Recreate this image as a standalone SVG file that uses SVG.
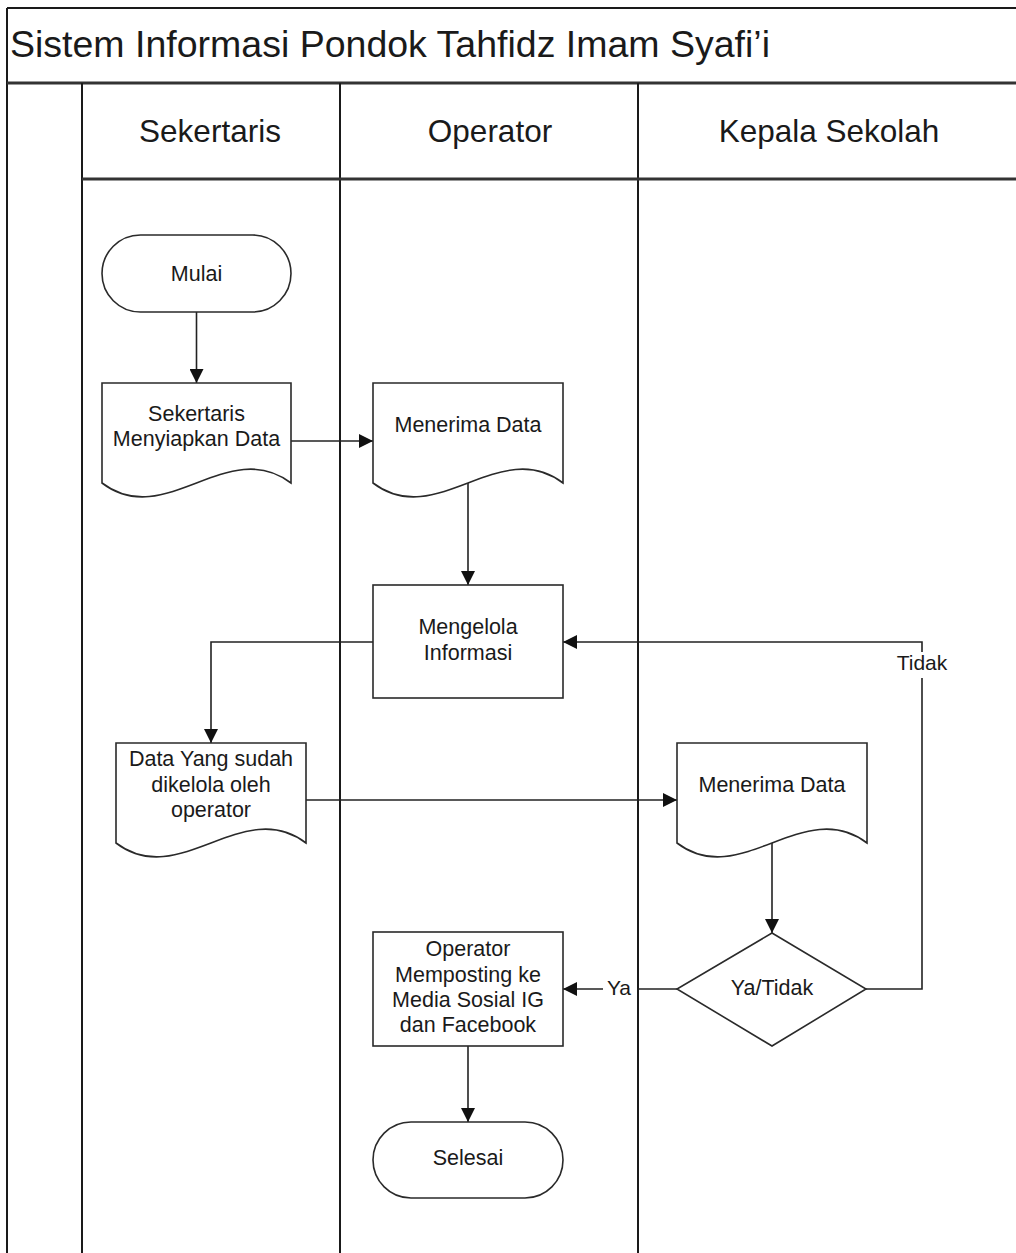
<svg xmlns="http://www.w3.org/2000/svg" width="1016" height="1253" viewBox="0 0 1016 1253">
<style>
.frame{fill:none;stroke:#1a1a1a;stroke-width:2}
.sep{fill:none;stroke:#333;stroke-width:3}
.shape{fill:#fff;stroke:#2a2a2a;stroke-width:1.6}
.conn{fill:none;stroke:#222;stroke-width:1.6}
text{font-family:"Liberation Sans",Arial,sans-serif;fill:#1a1a1a}
.t{font-size:21.5px;text-anchor:middle}
.lbl{font-size:21px;text-anchor:middle}
.hd{font-size:31.5px;text-anchor:middle}
.title{font-size:37.5px}
</style>
<defs>
<marker id="arr" viewBox="0 0 14 14" refX="14" refY="7" markerWidth="14" markerHeight="14" markerUnits="userSpaceOnUse" orient="auto">
<path d="M0,0 L14,7 L0,14 Z" fill="#111"/>
</marker>
</defs>
<rect width="1016" height="1253" fill="#fff"/>
<g id="pool">
<line class="frame" x1="7" y1="8" x2="1016" y2="8"/>
<line class="frame" x1="7" y1="8" x2="7" y2="1253"/>
<line class="sep" x1="7" y1="83" x2="1016" y2="83"/>
<line class="frame" x1="82" y1="83" x2="82" y2="1253"/>
<line class="frame" x1="340" y1="83" x2="340" y2="1253"/>
<line class="frame" x1="638" y1="83" x2="638" y2="1253"/>
<line class="sep" x1="82" y1="179" x2="1016" y2="179"/>
<text class="title" x="10" y="57">Sistem Informasi Pondok Tahfidz Imam Syafi’i</text>
<text class="hd" x="210" y="142">Sekertaris</text>
<text class="hd" x="490" y="142">Operator</text>
<text class="hd" x="829" y="142">Kepala Sekolah</text>
</g>
<g id="connectors">
<line class="conn" x1="196.5" y1="312" x2="196.5" y2="383" marker-end="url(#arr)"/>
<line class="conn" x1="291" y1="441" x2="373" y2="441" marker-end="url(#arr)"/>
<line class="conn" x1="468" y1="483" x2="468" y2="585" marker-end="url(#arr)"/>
<polyline class="conn" points="373,642 211,642 211,743" marker-end="url(#arr)"/>
<line class="conn" x1="306" y1="800" x2="677" y2="800" marker-end="url(#arr)"/>
<line class="conn" x1="772" y1="843" x2="772" y2="933" marker-end="url(#arr)"/>
<polyline class="conn" points="922,652 922,642 563,642" marker-end="url(#arr)"/>
<polyline class="conn" points="866,989 922,989 922,678"/>
<text class="lbl" x="922" y="670">Tidak</text>
<line class="conn" x1="677" y1="989" x2="637" y2="989"/>
<line class="conn" x1="603" y1="989" x2="563" y2="989" marker-end="url(#arr)"/>
<text class="lbl" x="619" y="995">Ya</text>
<line class="conn" x1="468" y1="1046" x2="468" y2="1122" marker-end="url(#arr)"/>
</g>
<g id="mulai">
<rect class="shape" x="102" y="235" width="189" height="77" rx="38.5" ry="38.5"/>
<text class="t" x="196.5" y="281">Mulai</text>
</g>
<g id="sekertaris-menyiapkan-data">
<path class="shape" d="M102,383 H291 V483 C228,435 165,531 102,483 Z"/>
<text class="t" x="196.5" y="421">Sekertaris</text>
<text class="t" x="196.5" y="446">Menyiapkan Data</text>
</g>
<g id="menerima-data-operator">
<path class="shape" d="M373,383 H563 V483 C500,435 436,531 373,483 Z"/>
<text class="t" x="468" y="432">Menerima Data</text>
</g>
<g id="mengelola-informasi">
<rect class="shape" x="373" y="585" width="190" height="113"/>
<text class="t" x="468" y="634">Mengelola</text>
<text class="t" x="468" y="660">Informasi</text>
</g>
<g id="data-dikelola">
<path class="shape" d="M116,743 H306 V843 C243,795 179,891 116,843 Z"/>
<text class="t" x="211" y="766">Data Yang sudah</text>
<text class="t" x="211" y="791.5">dikelola oleh</text>
<text class="t" x="211" y="817">operator</text>
</g>
<g id="menerima-data-kepala">
<path class="shape" d="M677,743 H867 V843 C804,795 740,891 677,843 Z"/>
<text class="t" x="772" y="792">Menerima Data</text>
</g>
<g id="ya-tidak">
<path class="shape" d="M772,933 L866,989 L772,1046 L677,989 Z"/>
<text class="t" x="772" y="995">Ya/Tidak</text>
</g>
<g id="operator-memposting">
<rect class="shape" x="373" y="932" width="190" height="114"/>
<text class="t" x="468" y="956">Operator</text>
<text class="t" x="468" y="981.5">Memposting ke</text>
<text class="t" x="468" y="1007">Media Sosial IG</text>
<text class="t" x="468" y="1032">dan Facebook</text>
</g>
<g id="selesai">
<rect class="shape" x="373" y="1122" width="190" height="76" rx="38" ry="38"/>
<text class="t" x="468" y="1165">Selesai</text>
</g>
</svg>
